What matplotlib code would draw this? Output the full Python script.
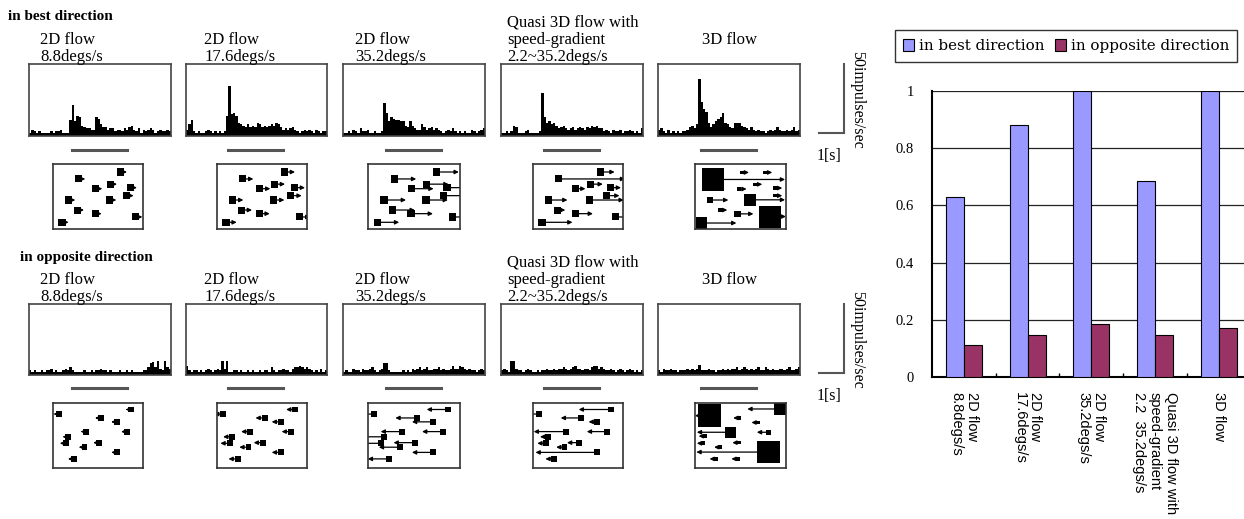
import matplotlib
matplotlib.use("Agg")
import matplotlib.pyplot as plt
from matplotlib.patches import Rectangle, FancyArrowPatch, Patch
from matplotlib.lines import Line2D
import numpy as np

# ---------------- data ----------------
CATEGORIES = ["2D flow\n8.8degs/s", "2D flow\n17.6degs/s", "2D flow\n35.2degs/s",
              "Quasi 3D flow with\nspeed-gradient\n2.2  35.2degs/s", "3D flow"]
PANEL_TITLES = ["2D flow\n8.8degs/s", "2D flow\n17.6degs/s", "2D flow\n35.2degs/s",
                "Quasi 3D flow with\nspeed-gradient\n2.2~35.2degs/s", "3D flow"]
BEST_RESP = [0.628, 0.881, 1.0, 0.686, 1.0]
OPP_RESP = [0.113, 0.147, 0.186, 0.147, 0.172]
YTICKS = [0, 0.2, 0.4, 0.6, 0.8, 1]
YTICKLABELS = ["0", "0.2", "0.4", "0.6", "0.8", "1"]
LEGEND_LABELS = ["in best direction", "in opposite direction"]

# PSTH (impulses/sec), 60 bins over the recording window
best_2d_88 = [1,3,2,1,2,1,1,1,1,2, 1,2,2,3,1,1,1,10,21,9, 13,12,6,5,4,4,3,3,12,11,
              7,5,5,3,4,4,2,3,3,2, 4,3,5,6,3,2,4,1,3,2, 3,4,3,1,2,3,2,2,3,2]
best_2d_176 = [3,7,10,2,1,2,1,1,2,3, 2,1,2,1,2,1,2,13,34,14, 15,13,8,7,6,5,7,5,6,5,
               8,7,5,6,5,6,7,6,8,7, 5,3,4,3,4,5,3,2,1,2, 3,2,3,2,1,3,2,1,2,2]
best_2d_352 = [1,1,2,1,3,2,1,4,2,2, 3,1,1,2,1,1,2,22,15,9, 12,11,10,10,9,9,6,5,9,6,
               4,3,3,7,5,3,4,5,3,4, 3,2,1,2,3,2,4,2,1,2, 1,2,1,1,3,2,1,2,3,4]
best_quasi = [1,1,2,1,2,6,5,1,1,1, 2,3,1,1,1,1,2,29,12,8, 9,7,8,6,4,5,6,4,3,4,
              5,3,4,5,4,3,5,4,6,5, 6,4,4,2,3,2,1,3,2,2, 3,1,2,2,3,2,1,2,1,4]
best_3d = [3,4,2,1,3,1,2,1,2,1, 2,2,3,5,6,4,7,39,23,18, 16,8,5,7,9,11,12,15,8,7,
           5,4,8,8,8,6,5,4,3,5, 3,2,3,2,2,1,2,3,2,3, 5,3,2,2,3,2,3,5,2,3]
opp_2d_88 = [2,1,2,1,1,2,1,2,2,3, 1,2,1,1,2,3,2,4,2,1, 1,1,1,2,1,1,2,1,2,2,
             3,2,2,1,2,1,1,1,2,1, 1,2,1,2,1,1,1,1,2,2, 4,7,8,4,9,3,2,9,4,3]
opp_2d_176 = [5,2,1,2,2,1,2,1,2,3, 2,1,2,3,2,9,3,9,1,1, 2,2,1,2,1,1,2,1,2,1,
              1,2,1,2,2,1,4,2,1,2, 2,3,2,2,1,3,4,4,5,4, 3,4,3,2,1,2,1,3,1,2]
opp_2d_352 = [1,2,1,1,3,2,2,1,3,2, 2,3,4,2,1,2,3,7,7,2, 1,1,1,1,1,2,1,2,1,3,
              2,3,4,2,3,4,2,2,3,3, 4,2,3,2,2,3,5,3,3,5, 4,3,2,3,2,2,1,2,3,2]
opp_quasi = [2,3,2,1,9,9,3,2,2,1, 2,3,2,1,1,2,1,2,2,3, 2,2,3,2,3,3,4,3,2,3,
             4,5,3,3,2,3,3,2,4,5, 5,3,4,3,2,2,3,2,1,2, 3,2,1,2,3,2,1,2,1,2]
opp_3d = [2,1,3,2,2,3,2,2,1,2, 2,2,3,2,3,2,3,6,2,2, 2,3,2,2,1,2,2,3,2,3,
          2,3,3,4,2,3,4,3,2,3, 2,3,4,2,2,4,3,2,3,2, 2,3,3,2,3,4,2,2,3,4]
BEST_PSTH = [best_2d_88, best_2d_176, best_2d_352, best_quasi, best_3d]
OPP_PSTH = [opp_2d_88, opp_2d_176, opp_2d_352, opp_quasi, opp_3d]

# Stimulus schematics: dot centres (box-normalised), dot size, arrow length
TOP_X = [0.285, 0.748, 0.474, 0.637, 0.859, 0.174, 0.63, 0.822, 0.27, 0.467, 0.919, 0.10]
TOP_Y = [0.77, 0.877, 0.62, 0.69, 0.636, 0.446, 0.446, 0.513, 0.292, 0.236, 0.185, 0.103]
TOP_LEN = [[0.035]*12, [0.08]*12, [0.2]*12,
           [0.7, 0.12, 0.07, 0.1, 0.08, 0.17, 0.34, 0.1, 0.05, 0.16, 0.1, 0.3]]
TOP3D_X = [0.198, 0.513, 0.769, 0.487, 0.659, 0.879, 0.879, 0.275, 0.606, 0.165, 0.467, 0.828, 0.071]
TOP3D_Y = [0.762, 0.87, 0.87, 0.615, 0.687, 0.63, 0.513, 0.292, 0.449, 0.446, 0.233, 0.192, 0.092]
TOP3D_S = [0.25, 0.04, 0.04, 0.04, 0.04, 0.04, 0.04, 0.04, 0.128, 0.073, 0.07, 0.242, 0.128]
TOP3D_L = [0.667, 0.06, 0.06, 0.06, 0.06, 0.06, 0.06, 0.06, 0.32, 0.165, 0.14, 0.05, 0.32]

BOT_X = [0.07, 0.87, 0.53, 0.71, 0.37, 0.82, 0.17, 0.14, 0.51, 0.35, 0.71, 0.23]
BOT_Y = [0.83, 0.90, 0.77, 0.71, 0.56, 0.56, 0.48, 0.38, 0.39, 0.32, 0.24, 0.14]
BOT_LEN = [[0.03]*12, [0.07]*12, [0.2]*12,
           [0.1, 0.33, 0.19, 0.06, 0.33, 0.19, 0.06, 0.06, 0.1, 0.06, 0.65, 0.06]]
BOT3D_X = [0.16, 0.93, 0.39, 0.81, 0.49, 0.69, 0.81, 0.11, 0.09, 0.28, 0.48, 0.23, 0.47]
BOT3D_Y = [0.806, 0.908, 0.55, 0.245, 0.77, 0.70, 0.55, 0.49, 0.38, 0.32, 0.39, 0.14, 0.14]
BOT3D_S = [0.26, 0.13, 0.12, 0.25, 0.04, 0.04, 0.06, 0.04, 0.04, 0.04, 0.04, 0.04, 0.04]
BOT3D_L = [0.03, 0.29, 0.31, 0.67, 0.05, 0.05, 0.1, 0.05, 0.05, 0.05, 0.05, 0.05, 0.05]

# ---------------- layout ----------------
W, H = 1244, 519
fig = plt.figure(figsize=(W / 100, H / 100), dpi=100)
SERIF = "Liberation Serif"


def rect(x0, y0, x1, y1):
    return [x0 / W, 1 - y1 / H, (x1 - x0) / W, (y1 - y0) / H]


def fy(y):
    return 1 - y / H


PSTH_X = [(29, 171), (186, 327), (343, 485), (501, 643), (658, 800)]
STIM_X = [(53, 143), (217, 307), (368, 460), (533, 623), (695, 786)]
TITLE_X = [40, 204, 355, 507, 730]


def draw_psth(x0, x1, y0, y1, vals):
    ax = fig.add_axes(rect(x0, y0, x1, y1))
    edges = np.linspace(0, 1, len(vals) + 1)
    ax.stairs(vals, edges, fill=True, color="black", baseline=-1.5)
    ax.set_xlim(0, 1)
    ax.set_ylim(-1.5, 50)
    ax.set_xticks([])
    ax.set_yticks([])
    for sp in ax.spines.values():
        sp.set_color("#444444")
        sp.set_linewidth(1.2)
    return ax


def draw_stim(x0, x1, y0, y1, xs, ys, sizes, lens, direction):
    ax = fig.add_axes(rect(x0, y0, x1, y1))
    asp = (x1 - x0) / (y1 - y0)
    ax.set_xlim(0, 1)
    ax.set_ylim(0, 1)
    ax.set_xticks([])
    ax.set_yticks([])
    for sp in ax.spines.values():
        sp.set_color("#333333")
        sp.set_linewidth(1.2)
    for x, y, s, L in zip(xs, ys, sizes, lens):
        ax.add_patch(Rectangle((x - s / 2, y - s * asp / 2), s, s * asp,
                               color="black", lw=0))
        if direction > 0:
            start = x + s / 2
        else:
            start = x - s / 2
        end = start + direction * L
        ax.add_patch(FancyArrowPatch((start, y), (end, y), arrowstyle="-|>",
                                     mutation_scale=6, lw=0.9, color="black",
                                     shrinkA=0, shrinkB=0))


def title_texts(top_offset):
    for i, (tx, t) in enumerate(zip(TITLE_X, PANEL_TITLES)):
        if i == 4:
            fig.text(tx / W, fy(40 + top_offset), t, ha="center", va="center",
                     family=SERIF, fontsize=12)
        else:
            fig.text(tx / W, fy(65 + top_offset), t, ha="left", va="bottom",
                     family=SERIF, fontsize=12, linespacing=1.12)


for row, (psth, off, ylab) in enumerate([(BEST_PSTH, 0, "in best direction"),
                                         (OPP_PSTH, 240, "in opposite direction")]):
    fig.text((8 if row == 0 else 20) / W, fy(17 + off), ylab, ha="left", va="center",
             family=SERIF, fontsize=11, fontweight="bold")
    title_texts(off)
    for i, (x0, x1) in enumerate(PSTH_X):
        draw_psth(x0, x1, 64 + off, 136 + off if row == 0 else 135 + off, psth[i])
        w = x1 - x0
        fig.add_artist(Line2D([(x0 + 0.3 * w) / W, (x0 + 0.69 * w) / W],
                              [fy(150 + off - (2 if row else 0))] * 2,
                              color="#555555", lw=2.2))
    # scale bars
    fig.add_artist(Line2D([844 / W, 844 / W], [fy(64 + off), fy(133 + off)],
                          color="#555555", lw=1.5))
    fig.add_artist(Line2D([819 / W, 844 / W], [fy(133 + off)] * 2,
                          color="#555555", lw=1.5))
    fig.text(857 / W, fy(100 + off), "50impulses/sec", rotation=-90,
             ha="center", va="center", family=SERIF, fontsize=11.5)
    fig.text(829 / W, fy(156 + off), "1[s]", ha="center", va="center",
             family=SERIF, fontsize=11.5)

# stimulus boxes
for i, (x0, x1) in enumerate(STIM_X):
    if i < 4:
        draw_stim(x0, x1, 164, 229, TOP_X, TOP_Y, [0.078] * 12, TOP_LEN[i], +1)
        draw_stim(x0, x1, 403, 468, BOT_X, BOT_Y, [0.065] * 12, BOT_LEN[i], -1)
    else:
        draw_stim(x0, x1, 164, 229, TOP3D_X, TOP3D_Y, TOP3D_S, TOP3D_L, +1)
        draw_stim(x0, x1, 403, 468, BOT3D_X, BOT3D_Y, BOT3D_S, BOT3D_L, -1)

# ---------------- bar chart ----------------
ax = fig.add_axes(rect(932, 91, 1250.5, 377))
x = np.arange(len(CATEGORIES))
bw = 0.283
ax.bar(x - bw / 2, BEST_RESP, bw, color="#9999FF", edgecolor="black", lw=0.8, zorder=3)
ax.bar(x + bw / 2, OPP_RESP, bw, color="#993366", edgecolor="black", lw=0.8, zorder=3)
ax.set_xlim(-0.5, 4.5)
ax.set_ylim(0, 1)
ax.set_yticks(YTICKS)
ax.set_yticklabels(YTICKLABELS, family=SERIF, fontsize=10.5)
for yv in YTICKS[1:]:
    ax.axhline(yv, color="#222222", lw=0.9, zorder=1)
ax.set_xticks(x)
ax.set_xticklabels(CATEGORIES, rotation=-90, family="Liberation Sans", fontsize=10.5,
                   ha="center", va="top", multialignment="left", linespacing=1.15)
ax.set_xticks(np.arange(0.5, 4.5, 1), minor=True)
ax.tick_params(axis="x", which="major", length=0, pad=11)
ax.tick_params(axis="x", which="minor", length=3, direction="in", width=1)
ax.tick_params(axis="y", length=0, pad=13)
for s in ["top", "right"]:
    ax.spines[s].set_visible(False)
ax.spines["left"].set_linewidth(1.5)
ax.spines["bottom"].set_linewidth(1.5)

handles = [Patch(facecolor="#9999FF", edgecolor="black", lw=0.8),
           Patch(facecolor="#993366", edgecolor="black", lw=0.8)]
leg = fig.legend(handles, LEGEND_LABELS, loc="center", ncol=2,
                 bbox_to_anchor=(1066 / W, fy(46)), frameon=True, fancybox=False,
                 edgecolor="#333333", framealpha=1, handlelength=0.75, handleheight=0.9,
                 handletextpad=0.3, columnspacing=0.7, borderpad=0.55,
                 borderaxespad=0, prop={"family": "DejaVu Serif", "size": 10.9})
leg.get_frame().set_linewidth(1.0)

fig.savefig("out.png", dpi=100)
